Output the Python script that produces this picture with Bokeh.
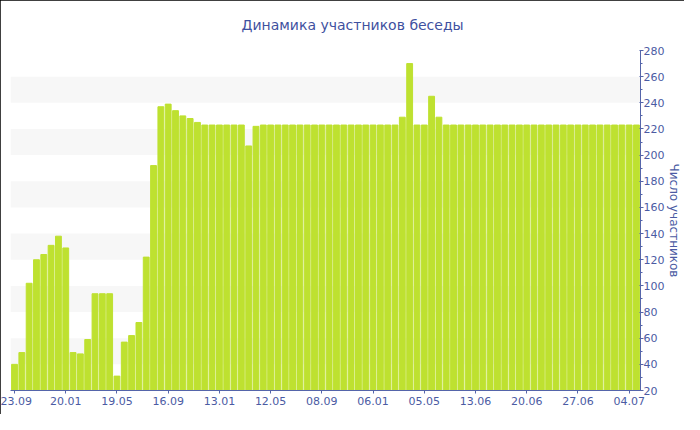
from bokeh.plotting import figure
from bokeh.models import Range1d, FixedTicker, SingleIntervalTicker
from bokeh.embed import file_html
from bokeh.resources import INLINE

title_text = "Динамика участников беседы"
y_label = "Число участников"

tick_labels = ["23.09", "20.01", "19.05", "16.09", "13.01", "12.05", "08.09",
               "06.01", "05.05", "13.06", "20.06", "27.06", "04.07"]
label_step = 7

values = [40, 49, 102, 120, 124, 131, 138, 129, 49, 48,
          59, 94, 94, 94, 31, 57, 62, 72, 122, 192,
          237, 239, 234, 230, 228, 225, 223, 223, 223, 223,
          223, 223, 207, 222, 223, 223, 223, 223, 223, 223,
          223, 223, 223, 223, 223, 223, 223, 223, 223, 223,
          223, 223, 223, 229, 270, 223, 223, 245, 229, 223,
          223, 223, 223, 223, 223, 223, 223, 223, 223, 223,
          223, 223, 223, 223, 223, 223, 223, 223, 223, 223,
          223, 223, 223, 223, 223, 223]

idx = list(range(len(values)))

TXT = "#4b5ba3"
AX = "#5565aa"
FONT = "DejaVu Sans"

p = figure(width=684, height=414, output_backend="svg", toolbar_location=None,
           x_range=Range1d(-0.55, len(values) - 0.45), y_range=Range1d(20, 280),
           y_axis_location="right",
           min_border_left=10, min_border_top=50, min_border_bottom=24, min_border_right=10)

p.styles = {"outline": "2px solid black", "outline-offset": "-2px"}

p.vbar(x=idx, top=values, bottom=0, width=0.8, color="#bee130")

p.title.text = title_text
p.title.align = "left"
p.title.vertical_align = "top"
p.title.offset = 231
p.title.standoff = 31
p.title.text_font = FONT
p.title.text_font_size = "14px"
p.title.text_font_style = "normal"
p.title.text_color = "#3f51a0"

p.outline_line_color = None
p.background_fill_color = "white"

ticks = [i * label_step for i in range(len(tick_labels))]
p.xaxis.ticker = FixedTicker(ticks=ticks)
p.xaxis.major_label_overrides = {t: lab for t, lab in zip(ticks, tick_labels)}
p.xaxis.major_tick_in = 0
p.xaxis.major_tick_out = 3
p.xaxis.minor_tick_line_color = None
p.xaxis.axis_line_color = AX
p.xaxis.major_tick_line_color = AX
p.xaxis.major_label_text_color = TXT
p.xaxis.major_label_text_font = FONT
p.xaxis.major_label_text_font_size = "11px"
p.xaxis.major_label_standoff = 3

p.yaxis.ticker = SingleIntervalTicker(interval=20, num_minor_ticks=2)
p.yaxis.axis_label = y_label
p.yaxis.axis_label_text_font = FONT
p.yaxis.axis_label_text_font_size = "12px"
p.yaxis.axis_label_text_font_style = "normal"
p.yaxis.axis_label_text_color = TXT
p.yaxis.axis_label_standoff = 0
p.yaxis.major_tick_in = 1
p.yaxis.major_tick_out = 3
p.yaxis.minor_tick_in = 0
p.yaxis.minor_tick_out = 2
p.yaxis.axis_line_color = AX
p.yaxis.major_tick_line_color = AX
p.yaxis.minor_tick_line_color = AX
p.yaxis.major_label_text_color = TXT
p.yaxis.major_label_text_font = FONT
p.yaxis.major_label_text_font_size = "11px"
p.yaxis.major_label_standoff = 0

p.ygrid.grid_line_color = None
p.ygrid.band_fill_color = "#f7f7f7"
p.ygrid.band_fill_alpha = 1.0
p.xgrid.grid_line_color = "white"
p.xgrid.grid_line_width = 1

open("out.html", "w").write(file_html(p, INLINE))
